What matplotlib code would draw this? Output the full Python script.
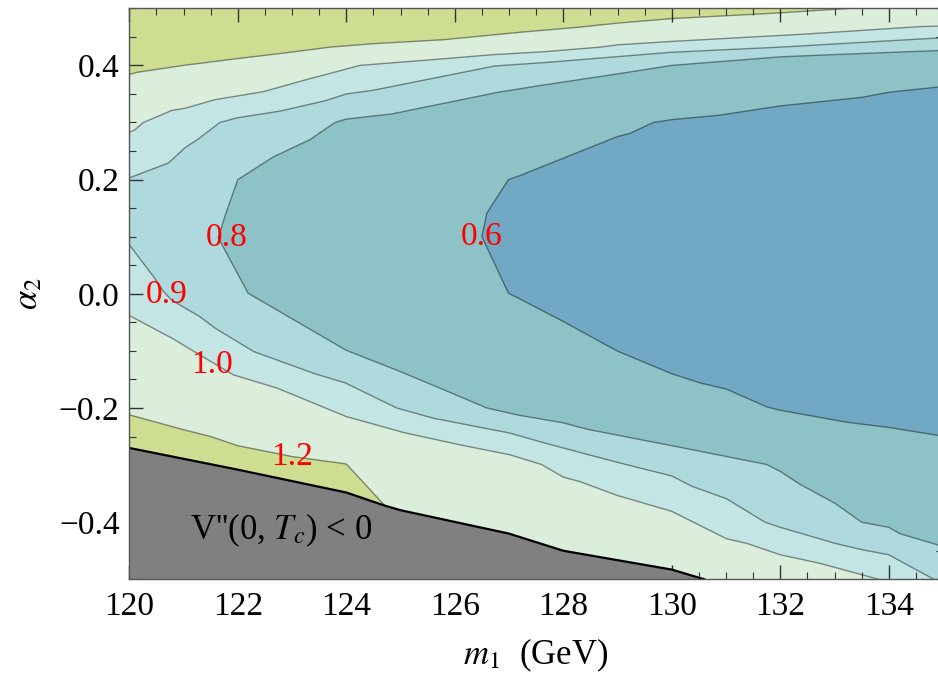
import numpy as np
import matplotlib
matplotlib.use("Agg")
import matplotlib.pyplot as plt
from matplotlib.ticker import MultipleLocator, FuncFormatter

plt.rcParams["font.family"] = ["Liberation Serif", "DejaVu Serif"]
plt.rcParams["mathtext.fontset"] = "stix"

# ---- contour curves: (m1 [GeV], alpha2) ----
c12_top_x = [120, 120.15, 121, 122, 122.8, 123.7, 124.5, 125.8, 127.2, 128.3, 129, 130, 131, 132, 133.3]
c12_top_y = [0.384, 0.388, 0.400, 0.412, 0.421, 0.432, 0.438, 0.445, 0.458, 0.467, 0.474, 0.482, 0.487, 0.492, 0.5]
c12_bot_x = [120, 121, 121.5, 122, 123, 124, 124.71]
c12_bot_y = [-0.212, -0.238, -0.250, -0.266, -0.285, -0.298, -0.371]

c10_top_x = [120, 120.1, 120.26, 120.78, 121.03, 121.58, 122.47, 123.3, 123.82, 124.25, 125.45, 126.74, 127.66, 128.68, 129.0, 130.0, 132.49, 134.58, 135]
c10_top_y = [0.283, 0.287, 0.300, 0.321, 0.325, 0.340, 0.354, 0.376, 0.389, 0.400, 0.409, 0.419, 0.424, 0.432, 0.436, 0.442, 0.455, 0.468, 0.469]
c10_bot_x = [120, 120.81, 121.35, 121.92, 122.72, 124.0, 125.06, 126.07, 127.02, 127.6, 128.0, 128.31, 128.99, 130.0, 131.01, 131.38, 132.0, 132.73, 133.81]
c10_bot_y = [-0.038, -0.079, -0.110, -0.142, -0.165, -0.215, -0.243, -0.264, -0.282, -0.299, -0.321, -0.329, -0.353, -0.381, -0.429, -0.437, -0.457, -0.472, -0.5]

c09_top_x = [120, 120.72, 121.03, 121.27, 121.67, 121.98, 122.78, 123.61, 124.0, 124.47, 126.74, 127.66, 130.0, 132.0, 134.91, 135]
c09_top_y = [0.203, 0.229, 0.256, 0.271, 0.300, 0.308, 0.320, 0.338, 0.350, 0.356, 0.399, 0.405, 0.423, 0.432, 0.448, 0.448]
c09_bot_x = [120, 120.47, 120.63, 120.78, 121.3, 121.58, 122.29, 123.42, 123.98, 124.93, 125.61, 127.02, 127.57, 128.0, 128.99, 130.0, 130.37, 131.01, 131.72, 132.0, 133.01, 133.5, 134.0, 134.83]
c09_bot_y = [0.086, 0.027, 0.004, -0.011, -0.040, -0.060, -0.101, -0.140, -0.156, -0.200, -0.218, -0.244, -0.259, -0.270, -0.295, -0.319, -0.337, -0.359, -0.400, -0.409, -0.437, -0.448, -0.457, -0.5]

c08_x = [135, 134.91, 133.01, 132.0, 130.0, 128.99, 127.66, 127.2, 126.8, 124.84, 124.0, 123.79, 123.33, 122.66, 122.0, 121.76, 121.64, 121.76, 122.19, 124.0, 124.99, 125.67, 126.59, 127.2, 128.0, 128.43, 130.0, 131.01, 131.75, 132.0, 132.37, 133.01, 133.5, 134.0, 134.2, 134.91, 135]
c08_y = [0.426, 0.426, 0.419, 0.415, 0.400, 0.385, 0.366, 0.359, 0.353, 0.315, 0.306, 0.300, 0.270, 0.240, 0.200, 0.135, 0.098, 0.077, 0.001, -0.099, -0.136, -0.163, -0.200, -0.213, -0.226, -0.237, -0.266, -0.285, -0.299, -0.311, -0.334, -0.367, -0.400, -0.409, -0.420, -0.440, -0.442]

c06_x = [135, 134.91, 134.0, 133.5, 132.0, 130.89, 130.0, 129.66, 129.23, 128.99, 127.2, 126.99, 126.59, 126.5, 126.99, 127.2, 128.0, 128.99, 130.0, 130.52, 131.01, 131.75, 132.0, 133.23, 134.0, 134.91, 135]
c06_y = [0.362, 0.362, 0.353, 0.344, 0.329, 0.313, 0.305, 0.300, 0.281, 0.275, 0.207, 0.200, 0.141, 0.100, 0.001, -0.009, -0.0485, -0.100, -0.140, -0.156, -0.167, -0.198, -0.204, -0.225, -0.234, -0.248, -0.249]

# boundary of the region V''(0,Tc) < 0
vb_x = [120, 122, 124, 124.71, 125, 127, 128, 130, 130.6]
vb_y = [-0.270, -0.308, -0.348, -0.371, -0.379, -0.420, -0.450, -0.483, -0.5]

# contour labels
label_text = ["0.6", "0.8", "0.9", "1.0", "1.2"]

col_gt12 = "#CDDE92"
col_10_12 = "#DBEDDB"
col_09_10 = "#C3E5E3"
col_08_09 = "#AEDADD"
col_06_08 = "#8DC2C6"
col_lt06 = "#71A8C4"
line_col = (0, 0, 0, 0.42)

XMIN, XMAX, YMIN, YMAX = 120, 135, -0.5, 0.5

fig = plt.figure(figsize=(9.38, 6.75), dpi=100)
ax = fig.add_axes([129.3 / 938, (675 - 579.3) / 675, (943 - 129.3) / 938, (579.3 - 8.3) / 675])
ax.set_xlim(XMIN, XMAX)
ax.set_ylim(YMIN, YMAX)
ax.set_facecolor(col_gt12)

def band(top_x, top_y, bot_x, bot_y, color):
    px = list(top_x) + [XMAX, XMAX, bot_x[-1]] + list(bot_x[::-1])
    py = list(top_y) + [YMAX, YMIN, YMIN] + list(bot_y[::-1])
    ax.fill(px, py, color=color, lw=0, zorder=1)

band(c12_top_x, c12_top_y, c12_bot_x, c12_bot_y, col_10_12)
band(c10_top_x, c10_top_y, c10_bot_x, c10_bot_y, col_09_10)
band(c09_top_x, c09_top_y, c09_bot_x, c09_bot_y, col_08_09)
ax.fill(c08_x, c08_y, color=col_06_08, lw=0, zorder=2)
ax.fill(c06_x, c06_y, color=col_lt06, lw=0, zorder=3)

for xs, ys in [(c12_top_x, c12_top_y), (c12_bot_x, c12_bot_y), (c10_top_x, c10_top_y),
               (c10_bot_x, c10_bot_y), (c09_top_x, c09_top_y), (c09_bot_x, c09_bot_y),
               (c08_x, c08_y), (c06_x, c06_y)]:
    ax.plot(xs, ys, color=line_col, lw=1.0, zorder=4)

gx = [XMIN] + vb_x + [XMIN]
gy = [YMIN] + vb_y + [YMIN]
ax.fill(gx, gy, color="#808080", lw=0, zorder=5)
ax.plot(vb_x, vb_y, color="black", lw=1.6, zorder=6)

fs = 24
def lab(txt, x, y):
    ax.text(x, y, txt, color="red", fontsize=fs, ha="center", va="center", zorder=8)

i06 = int(np.argmin(c06_x))
lab(label_text[0], c06_x[i06], c06_y[i06])
i08 = int(np.argmin(c08_x))
lab(label_text[1], c08_x[i08] + 0.15, c08_y[i08])
lab(label_text[2], 120.69, np.interp(120.69, c09_bot_x, c09_bot_y))
lab(label_text[3], 121.52, np.interp(121.52, c10_bot_x, c10_bot_y) - 0.005)
lab(label_text[4], 123.0, np.interp(123.0, c12_bot_x, c12_bot_y))

ax.text(122.8, -0.415, r"V''(0, $T_c$) < 0", color="black", fontsize=25,
        ha="center", va="center", zorder=8)

ax.set_xticks(np.arange(120, 135, 2))
ax.set_yticks([-0.4, -0.2, 0.0, 0.2, 0.4])
ax.xaxis.set_minor_locator(MultipleLocator(0.5))
ax.yaxis.set_minor_locator(MultipleLocator(0.05))
ax.yaxis.set_major_formatter(FuncFormatter(lambda v, p: ("\u2212" if v < -1e-9 else "") + "%.1f" % abs(v)))
ax.tick_params(which="both", direction="in", top=True, right=True, labelsize=fs, color="#333333")
ax.tick_params(which="major", length=10, width=1.0)
ax.tick_params(which="minor", length=5, width=0.8)
ax.tick_params(axis="x", pad=9)
ax.tick_params(axis="y", pad=7)
for s in ax.spines.values():
    s.set_color("#555555")
    s.set_linewidth(1.0)
    s.set_zorder(10)

ax.set_xlabel(r"$m_1$  (GeV)", fontsize=25, labelpad=10)
ax.set_ylabel(r"$\alpha_2$", fontsize=25, labelpad=10)

fig.savefig("out.png", dpi=100)
